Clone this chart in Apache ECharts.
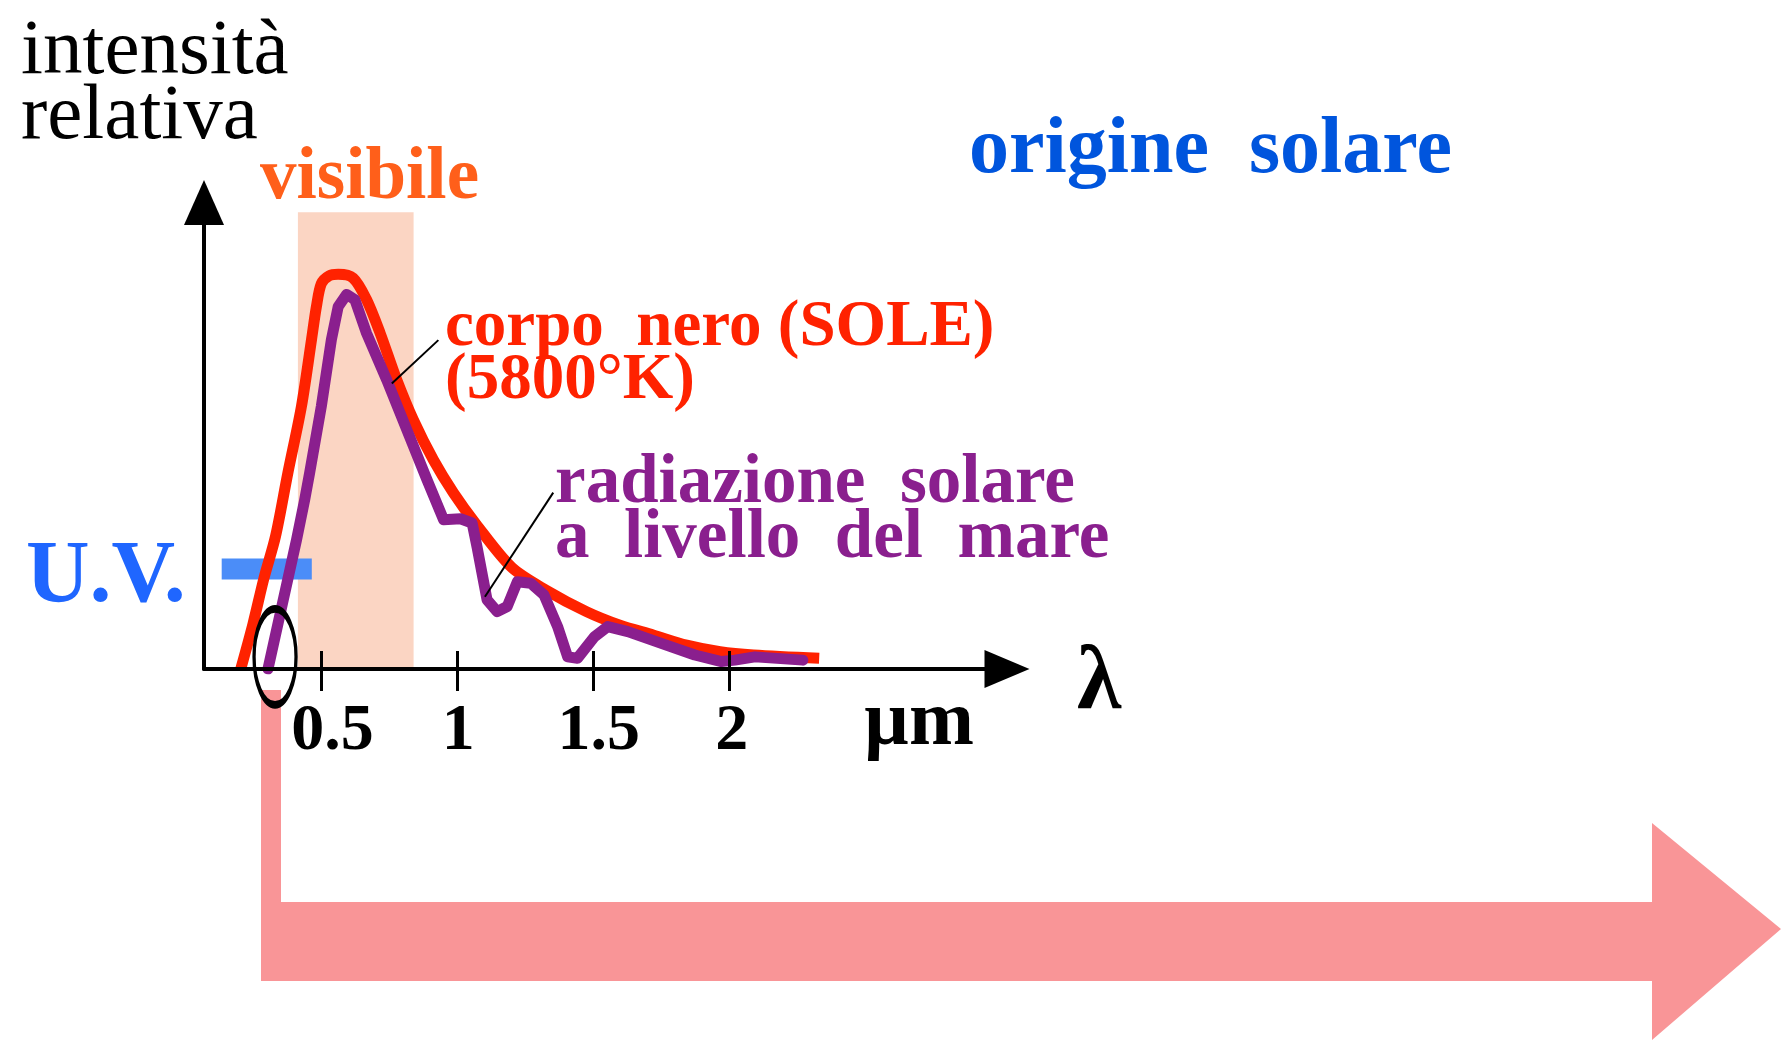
<!DOCTYPE html>
<html>
<head>
<meta charset="utf-8">
<script src="https://cdn.jsdelivr.net/npm/echarts@6/dist/echarts.min.js"></script>
<style>
html,body{margin:0;padding:0;background:#fff;}
#chart{width:1787px;height:1040px;}
</style>
</head>
<body>
<div id="chart"></div>
<script>
// ---- data (wavelength in µm, relative intensity) ----
const blackBody = [
  [0.205,0.0],[0.25,0.097],[0.29,0.194],[0.333,0.285],[0.378,0.42],[0.428,0.563],
  [0.465,0.706],[0.483,0.777],[0.501,0.826],[0.53,0.843],[0.563,0.846],[0.618,0.838],
  [0.667,0.792],[0.717,0.72],[0.778,0.62],[0.839,0.534],[0.913,0.448],[0.987,0.377],
  [1.07,0.31],[1.2,0.218],[1.327,0.169],[1.475,0.123],[1.598,0.094],[1.72,0.073],
  [1.843,0.051],[1.966,0.037],[2.089,0.03],[2.33,0.023]
];
const seaLevel = [
  [0.305,0.0],[0.41,0.277],[0.44,0.363],[0.458,0.42],[0.501,0.563],[0.538,0.706],
  [0.563,0.777],[0.594,0.803],[0.624,0.792],[0.667,0.72],[0.741,0.62],[0.815,0.513],
  [0.889,0.406],[0.95,0.32],[1.012,0.322],[1.055,0.313],[1.073,0.262],[1.11,0.148],
  [1.147,0.123],[1.184,0.134],[1.221,0.187],[1.27,0.184],[1.319,0.159],[1.369,0.091],
  [1.406,0.026],[1.442,0.023],[1.504,0.069],[1.553,0.091],[1.627,0.08],[1.75,0.055],
  [1.873,0.03],[1.971,0.016],[2.02,0.019],[2.094,0.026],[2.27,0.019]
];
const tickValues = [0.5, 1, 1.5, 2];
const tickLabels = ['0.5', '1', '1.5', '2'];
const visibleRange = [0.415, 0.84];
const visibleTop = 0.979;
const uvRangeX = [0.135, 0.466];
const uvRangeY = [0.192, 0.237];
const uvMarker = [0.331, 0.026];
const leaderBlackBody = [[0.931, 0.705], [0.76, 0.612]];
const leaderSeaLevel = [[1.353, 0.378], [1.102, 0.155]];

const SERIF = '"Liberation Serif", "Times New Roman", serif';

const chart = echarts.init(document.getElementById('chart'), null, {renderer: 'canvas'});

function txt(text, x, baseline, size, weight, color) {
  return {
    type: 'text', z: 100,
    style: {
      text: text, x: x, y: baseline - 0.25 * size,
      font: weight + ' ' + size + 'px ' + SERIF,
      fill: color, textAlign: 'left', verticalAlign: 'middle'
    }
  };
}

// label nudges (left padding inside a centred box)
const labelPad = [23, 2, 11, 5];
const richStyles = {};
tickLabels.forEach(function (t, i) {
  richStyles['t' + i] = {fontFamily: SERIF, fontWeight: 'bold', fontSize: 66, lineHeight: 66,
    color: '#000', padding: [0, 0, 0, labelPad[i]]};
});

const option = {
  animation: false,
  backgroundColor: '#ffffff',
  grid: {left: 204, top: 202.5, width: 803, height: 466.5, containLabel: false},
  xAxis: [{
    type: 'value', min: 0.07, max: 3.02, position: 'bottom', z: 10,
    axisLine: {show: true, onZero: false, symbol: ['none', 'triangle'], symbolSize: [38, 45],
      lineStyle: {color: '#000', width: 4}},
    axisTick: {show: true, inside: true, length: 18, customValues: tickValues,
      lineStyle: {color: '#000', width: 3}},
    axisLabel: {show: true, customValues: tickValues, margin: 30,
      formatter: function (v) {
        const i = tickValues.indexOf(v);
        return i >= 0 ? '{t' + i + '|' + tickLabels[i] + '}' : '';
      },
      rich: richStyles,
      fontFamily: SERIF, fontWeight: 'bold', fontSize: 66, lineHeight: 66, color: '#000'},
    splitLine: {show: false}
  }, {
    type: 'value', min: 0.07, max: 3.02, position: 'bottom', z: 10,
    axisLine: {show: false},
    axisTick: {show: true, inside: false, length: 22, customValues: tickValues,
      lineStyle: {color: '#000', width: 3}},
    axisLabel: {show: false},
    splitLine: {show: false}
  }],
  yAxis: {
    type: 'value', min: 0, max: 1, z: 10,
    axisLine: {show: true, onZero: false, symbol: ['none', 'triangle'], symbolSize: [40, 45],
      lineStyle: {color: '#000', width: 4}},
    axisTick: {show: false}, axisLabel: {show: false}, splitLine: {show: false}
  },
  series: [
    {
      type: 'line', data: [], z: 1, silent: true,
      markArea: {silent: true, itemStyle: {color: '#FBD5C3', opacity: 1},
        data: [[{xAxis: visibleRange[0], yAxis: 0}, {xAxis: visibleRange[1], yAxis: visibleTop}]]}
    },
    {
      name: 'corpo nero', type: 'line', data: blackBody, z: 3, smooth: 0.3,
      symbol: 'none', silent: true,
      lineStyle: {color: '#FF2200', width: 11, join: 'round', cap: 'butt'}
    },
    {
      name: 'radiazione solare', type: 'line', data: seaLevel, z: 4, smooth: false,
      symbol: 'none', silent: true,
      lineStyle: {color: '#8A1F8E', width: 11, join: 'round', cap: 'round'}
    },
    {
      type: 'line', data: [], z: 5, silent: true,
      markArea: {silent: true, itemStyle: {color: '#4B8DF8', opacity: 1},
        data: [[{xAxis: uvRangeX[0], yAxis: uvRangeY[0]}, {xAxis: uvRangeX[1], yAxis: uvRangeY[1]}]]},
      markLine: {silent: true, symbol: ['none', 'none'], label: {show: false},
        lineStyle: {color: '#000', width: 2, type: 'solid', opacity: 1},
        data: [
          [{coord: leaderBlackBody[0]}, {coord: leaderBlackBody[1]}],
          [{coord: leaderSeaLevel[0]}, {coord: leaderSeaLevel[1]}]
        ]}
    },
    {
      type: 'scatter', data: [uvMarker], z: 6, silent: true,
      symbol: 'circle', symbolSize: [42, 96],
      itemStyle: {color: 'rgba(0,0,0,0)', borderColor: '#000', borderWidth: 5, opacity: 1}
    }
  ],
  graphic: [
    {
      type: 'polygon', z: 0, silent: true,
      shape: {points: [[261,690],[281,690],[281,902],[1652,902],[1652,823],[1781,929],[1652,1040],[1652,981],[261,981]]},
      style: {fill: '#F99597'}
    },
    txt('intensità', 21, 72, 79, 'normal', '#000'),
    txt('relativa', 21, 137, 79, 'normal', '#000'),
    txt('visibile', 260, 197, 73, 'bold', '#FF5F1A'),
    txt('origine  solare', 969, 171, 80, 'bold', '#0055DD'),
    txt('corpo  nero (SOLE)', 445, 344, 65, 'bold', '#FF2200'),
    txt('(5800°K)', 445, 397, 65, 'bold', '#FF2200'),
    txt('radiazione  solare', 555, 501, 69, 'bold', '#8A1F8E'),
    txt('a  livello  del  mare', 555, 556, 69, 'bold', '#8A1F8E'),
    txt('U.V.', 26, 600, 88, 'bold', '#1F66FF'),
    txt('µm', 864, 743, 78, 'bold', '#000'),
    txt('λ', 1077, 707, 90, 'bold', '#000')
  ]
};
chart.setOption(option);
</script>
</body>
</html>
